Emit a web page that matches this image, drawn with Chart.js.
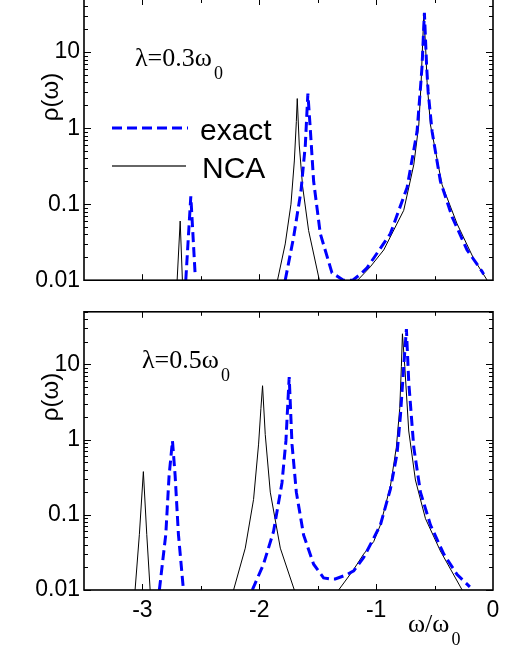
<!DOCTYPE html>
<html>
<head>
<meta charset="utf-8">
<script src="https://cdn.jsdelivr.net/npm/chart.js@4.4.0/dist/chart.umd.min.js"></script>
<style>
  html, body { margin: 0; padding: 0; background: #fff; }
  body { width: 513px; height: 646px; position: relative; overflow: hidden; }
  .painel { position: absolute; left: 0; width: 513px; }
  #painel-topo { top: -20px; height: 318px; }
  #painel-baixo { top: 294px; height: 352px; }
  .rotulo { position: absolute; white-space: nowrap; line-height: 1; color: #000; }
  .serif { font-family: "Liberation Serif", "Times New Roman", serif; font-size: 26px; }
  .sans { font-family: "Liberation Sans", Arial, sans-serif; }
  .sub { font-size: 18px; position: relative; top: 13px; margin-left: 2px; }
  .eixo-y { font-size: 24px; transform: translate(-50%, -50%) rotate(-90deg); }
  .legenda { font-size: 30px; }
  svg { position: absolute; left: 0; top: 0; pointer-events: none; }
</style>
</head>
<body>
<div class="painel" id="painel-topo"><canvas id="graficoTopo"></canvas></div>
<div class="painel" id="painel-baixo"><canvas id="graficoBaixo"></canvas></div>

<svg width="513" height="646">
  <line x1="112" y1="128" x2="188" y2="128" stroke="#0000ff" stroke-width="3" stroke-dasharray="10 5"/>
  <line x1="112" y1="166" x2="186" y2="166" stroke="#333" stroke-width="1.5"/>
</svg>

<div class="rotulo sans eixo-y" style="left:50px; top:97px;">ρ(ω)</div>
<div class="rotulo sans eixo-y" style="left:50px; top:397px;">ρ(ω)</div>
<div class="rotulo serif" style="left:135px; top:45px;">λ=0.3ω<span class="sub">0</span></div>
<div class="rotulo serif" style="left:142px; top:347px;">λ=0.5ω<span class="sub">0</span></div>
<div class="rotulo sans legenda" style="left:200px; top:115px;">exact</div>
<div class="rotulo sans legenda" style="left:202px; top:153px;">NCA</div>
<div class="rotulo serif" style="left:408px; top:611px;">ω/ω<span class="sub">0</span></div>

<script>
// Valores: ω/ω0 e ρ(ω). Um null em ρ separa os picos.
const omegaTopoNca = [-2.703, -2.677, -2.658, -2.2, -1.844, -1.778, -1.729, -1.700, -1.683, -1.675, -1.658, -1.629, -1.578, -1.486, -1.3, -1.158, -1.050, -0.935, -0.764, -0.678, -0.635, -0.615, -0.604, -0.592, -0.576, -0.564, -0.535, -0.436, -0.307, -0.164, -0.050];
const rhoTopoNca   = [0.01, 0.06, 0.01, null, 0.01, 0.03, 0.1, 0.37, 1.22, 2.45, 0.6, 0.17, 0.045, 0.01, null, 0.01, 0.015, 0.025, 0.083, 0.33, 1.1, 4, 11, 31, 11, 4, 1.1, 0.18, 0.055, 0.019, 0.01];

const omegaTopoExato = [-2.629, -2.586, -2.549, -2.2, -1.778, -1.706, -1.643, -1.606, -1.592, -1.584, -1.564, -1.535, -1.478, -1.378, -1.280, -1.200, -1.135, -1.078, -0.878, -0.735, -0.650, -0.620, -0.607, -0.587, -0.568, -0.555, -0.521, -0.450, -0.350, -0.222, -0.093, -0.080];
const rhoTopoExato   = [0.01, 0.127, 0.012, null, 0.01, 0.037, 0.15, 0.6, 1.65, 2.85, 1.0, 0.2, 0.041, 0.0125, 0.01, 0.01, 0.012, 0.0145, 0.041, 0.166, 0.9, 3.5, 6.6, 33, 6.6, 3, 0.9, 0.2, 0.068, 0.025, 0.013, 0.012];

const omegaBaixoNca = [-3.063, -3.026, -2.992, -2.963, -2.934, -2.5, -2.220, -2.120, -2.049, -2.006, -1.986, -1.972, -1.949, -1.906, -1.820, -1.700, -1.5, -1.321, -1.200, -1.107, -1.021, -0.964, -0.878, -0.827, -0.798, -0.784, -0.775, -0.755, -0.721, -0.664, -0.578, -0.450, -0.264];
const rhoBaixoNca   = [0.01, 0.055, 0.375, 0.055, 0.01, null, 0.01, 0.036, 0.16, 0.87, 2.6, 5.2, 1.17, 0.2, 0.036, 0.01, null, 0.01, 0.018, 0.03, 0.044, 0.073, 0.24, 0.79, 2.6, 9.4, 25.5, 9.4, 1.3, 0.29, 0.089, 0.033, 0.01];

const omegaBaixoExato = [-2.855, -2.800, -2.772, -2.743, -2.720, -2.692, -2.649, -2.3, -2.060, -1.964, -1.878, -1.806, -1.772, -1.755, -1.744, -1.720, -1.683, -1.621, -1.535, -1.450, -1.392, -1.350, -1.250, -1.192, -1.107, -1.021, -0.964, -0.878, -0.821, -0.792, -0.764, -0.741, -0.721, -0.678, -0.621, -0.535, -0.421, -0.307, -0.198];
const rhoBaixoExato   = [0.01, 0.055, 0.33, 0.96, 0.33, 0.055, 0.01, null, 0.01, 0.022, 0.06, 0.265, 0.96, 3.2, 6.8, 0.87, 0.2, 0.054, 0.022, 0.0145, 0.014, 0.014, 0.016, 0.018, 0.027, 0.049, 0.073, 0.22, 0.65, 2.1, 9.4, 29.5, 5.8, 0.79, 0.2, 0.073, 0.03, 0.016, 0.011];

// Eixos
const xTicks = [-3, -2, -1, 0];
const xTicksMenores = [-3, -2.5, -2, -1.5, -1, -0.5];
const yTicks = [0.01, 0.1, 1, 10];
const xMin = -3.5, xMax = 0;
const yMin = 0.01, yMax = 50;

const fonteTicks = { family: "'Liberation Sans', Arial, sans-serif", size: 23 };

function pontos(xs, ys) {
    return xs.map((x, i) => ({ x: x, y: ys[i] }));
}

// Moldura e marcas de escala voltadas para dentro
const molduraPlugin = {
    id: 'moldura',
    afterDatasetsDraw(chart) {
        const { ctx, chartArea: a } = chart;
        const x = chart.scales.x;
        const y = chart.scales.y;
        ctx.save();
        ctx.strokeStyle = '#000';
        ctx.lineWidth = 1;
        ctx.beginPath();
        xTicksMenores.forEach(v => {
            const px = Math.round(x.getPixelForValue(v)) + 0.5;
            const len = Number.isInteger(v) ? 6 : 4;
            ctx.moveTo(px, a.bottom); ctx.lineTo(px, a.bottom - len);
            ctx.moveTo(px, a.top); ctx.lineTo(px, a.top + len);
        });
        yTicks.forEach(d => {
            for (let m = 1; m <= 9; m++) {
                const v = d * m;
                if (v > yMax) break;
                const py = Math.round(y.getPixelForValue(v)) + 0.5;
                const len = m === 1 ? 7 : 4;
                ctx.moveTo(a.left, py); ctx.lineTo(a.left + len, py);
                ctx.moveTo(a.right, py); ctx.lineTo(a.right - len, py);
            }
        });
        ctx.stroke();
        ctx.lineWidth = 1.6;
        ctx.strokeRect(a.left, a.top, a.right - a.left, a.bottom - a.top);
        ctx.restore();
    }
};

function criarPainel(canvasId, ncaX, ncaY, exatoX, exatoY, rotulosX, paddingTopo, alturaEixoX) {
    const ctx = document.getElementById(canvasId);
    return new Chart(ctx, {
        type: 'line',
        data: {
            datasets: [{
                label: 'exact',
                data: pontos(exatoX, exatoY),
                borderColor: '#0000ff',
                borderWidth: 3,
                borderDash: [10, 5],
                pointRadius: 0,
                tension: 0,
                spanGaps: false
            }, {
                label: 'NCA',
                data: pontos(ncaX, ncaY),
                borderColor: '#000',
                borderWidth: 1,
                pointRadius: 0,
                tension: 0,
                spanGaps: false
            }]
        },
        options: {
            responsive: true,
            maintainAspectRatio: false,
            animation: false,
            layout: { padding: { top: paddingTopo, right: 20, bottom: 0, left: 0 } },
            plugins: {
                legend: { display: false },
                tooltip: { enabled: false }
            },
            scales: {
                x: {
                    type: 'linear',
                    min: xMin,
                    max: xMax,
                    grid: { display: false, drawTicks: false },
                    border: { display: false },
                    afterBuildTicks: (axis) => { axis.ticks = xTicks.map(v => ({ value: v })); },
                    afterFit: (axis) => { axis.height = alturaEixoX; },
                    ticks: {
                        display: rotulosX,
                        color: '#000',
                        font: fonteTicks,
                        padding: 7,
                        maxRotation: 0,
                        autoSkip: false,
                        callback: (v) => String(v)
                    }
                },
                y: {
                    type: 'logarithmic',
                    min: yMin,
                    max: yMax,
                    grid: { display: false, drawTicks: false },
                    border: { display: false },
                    afterBuildTicks: (axis) => { axis.ticks = yTicks.map(v => ({ value: v })); },
                    afterFit: (axis) => { axis.width = 84; },
                    ticks: {
                        color: '#000',
                        font: fonteTicks,
                        padding: 4,
                        autoSkip: false,
                        callback: (v) => String(v)
                    }
                }
            }
        },
        plugins: [molduraPlugin]
    });
}

criarPainel('graficoTopo', omegaTopoNca, rhoTopoNca, omegaTopoExato, rhoTopoExato, false, 19, 14);
criarPainel('graficoBaixo', omegaBaixoNca, rhoBaixoNca, omegaBaixoExato, rhoBaixoExato, true, 10, 56);
</script>
</body>
</html>
